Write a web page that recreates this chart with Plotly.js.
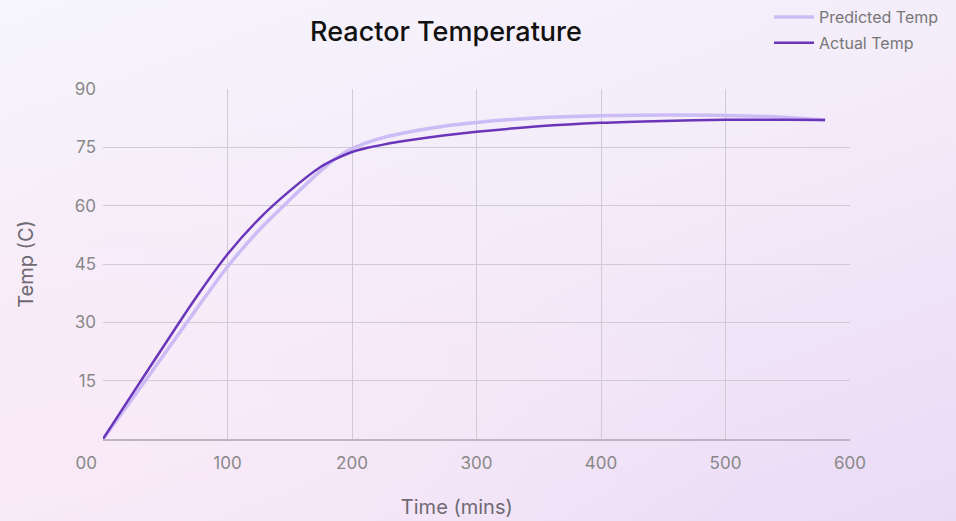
<!DOCTYPE html>
<html>
<head>
<meta charset="utf-8">
<script src="https://cdn.plot.ly/plotly-3.0.1.min.js"></script>
<style>
  html, body { margin: 0; padding: 0; width: 956px; height: 521px; overflow: hidden; }
  body {
    background:
      radial-gradient(ellipse at 5% 85%, rgba(251,234,247,0.9) 0%, rgba(251,234,247,0) 55%),
      linear-gradient(160deg, #f7f5fc 0%, #f3ebf9 50%, #ebdaf6 100%);
  }
  #chart { width: 956px; height: 521px; }
</style>
</head>
<body>
<div id="chart"></div>
<script>
const timeMins = [0, 25, 50, 75, 100, 125, 150, 175, 187.5, 200, 212.5, 225, 250, 275, 300, 350, 400, 450, 500, 550, 580];
const predictedTemp = [0, 11, 22.2, 33.4, 44.3, 53.6, 61.5, 69, 72.3, 74.7, 76.3, 77.5, 79.2, 80.5, 81.4, 82.6, 83.1, 83.3, 83.2, 82.7, 82];
const actualTemp = [0, 12.3, 24.5, 36.5, 47.5, 56.5, 63.8, 70, 72.1, 73.8, 74.9, 75.7, 77, 78.1, 79, 80.4, 81.3, 81.8, 82.1, 82.1, 82];

const xTickVals = [0, 100, 200, 300, 400, 500, 600];
const xTickText = ['00\u00a0\u00a0\u00a0\u00a0\u00a0\u00a0\u00a0', '100', '200', '300', '400', '500', '600'];
const yTickVals = [15, 30, 45, 60, 75, 90];
const yTickText = ['15', '30', '45', '60', '75', '90'];

const traces = [
  {
    x: timeMins, y: predictedTemp, name: 'Predicted Temp', type: 'scatter', mode: 'lines',
    line: { color: '#cbbcf5', width: 3.5, shape: 'spline', smoothing: 0.8 },
    legendgroup: 'p'
  },
  {
    x: timeMins, y: actualTemp, name: 'Actual Temp', type: 'scatter', mode: 'lines',
    line: { color: '#6a35b9', width: 2.5, shape: 'spline', smoothing: 0.8 },
    legendgroup: 'a'
  }
];

const layout = {
  width: 956, height: 521,
  paper_bgcolor: 'rgba(0,0,0,0)',
  plot_bgcolor: 'rgba(0,0,0,0)',
  font: { family: 'Inter, "Noto Sans", sans-serif', color: '#888' },
  margin: { l: 103, r: 106, t: 89, b: 82, autoexpand: false },
  title: {
    text: 'Reactor Temperature',
    font: { size: 27, color: '#111', family: 'Inter, sans-serif', weight: 500 },
    xref: 'container', x: 0.4665, xanchor: 'center',
    yref: 'container', y: 1 - 32 / 521, yanchor: 'middle'
  },
  showlegend: true,
  legend: {
    x: 769 / 956, xanchor: 'left', xref: 'container',
    y: 1, yanchor: 'top', yref: 'container',
    font: { size: 16, color: '#777' },
    bgcolor: 'rgba(0,0,0,0)',
    traceorder: 'grouped', tracegroupgap: 2,
    itemwidth: 40
  },
  xaxis: {
    range: [0, 600],
    tickmode: 'array', tickvals: xTickVals, ticktext: xTickText,
    showgrid: true, gridcolor: '#cfcad3', gridwidth: 1,
    zeroline: false,
    showline: true, linecolor: '#bdb6c2', linewidth: 1.5,
    ticks: '', tickfont: { size: 17, color: '#888' },
    ticklabelstandoff: 8,
    title: { text: 'Time (mins)\u00a0\u00a0\u00a0\u00a0\u00a0\u00a0\u00a0\u200b', font: { size: 20, color: '#6e6a72' }, standoff: 28 },
    fixedrange: true
  },
  yaxis: {
    range: [0, 90],
    tickmode: 'array', tickvals: yTickVals, ticktext: yTickText,
    showgrid: true, gridcolor: '#cfcad3', gridwidth: 1,
    zeroline: false, showline: false,
    ticks: '', tickfont: { size: 17, color: '#888' },
    ticklabelstandoff: 6,
    title: { text: 'Temp (C)', font: { size: 20, color: '#6e6a72' }, standoff: 35 },
    fixedrange: true
  }
};

Plotly.newPlot('chart', traces, layout, { displayModeBar: false, staticPlot: true });
</script>
</body>
</html>
